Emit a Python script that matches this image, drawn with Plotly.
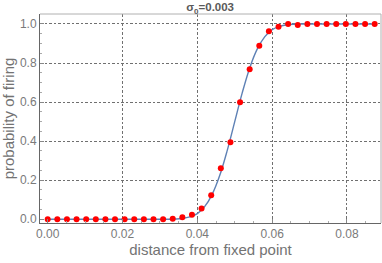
import plotly.graph_objects as go

# sampled points (red dots)
point_x = [i * 0.002571 for i in range(35)]
point_y = [0.0, 0.0, 0.0, 0.0, 0.0, 0.0, 0.0, 0.0, 0.0, 0.0,
           0.0, 0.0, 0.0, 0.003, 0.010, 0.023, 0.055, 0.123, 0.261, 0.394,
           0.599, 0.768, 0.889, 0.963, 0.986, 1.0, 0.995, 1.0, 1.0, 1.0,
           1.0, 1.0, 1.0, 1.0, 1.0]

# smooth curve (blue)
curve_x = [0.0, 0.010, 0.020, 0.026, 0.030, 0.032, 0.034, 0.036, 0.038, 0.040,
           0.042, 0.044, 0.046, 0.048, 0.050, 0.052, 0.054, 0.056, 0.058, 0.060,
           0.062, 0.064, 0.066, 0.068, 0.070, 0.075, 0.080, 0.0874]
curve_y = [0.0, 0.0, 0.0, 0.0, 0.0001, 0.0004, 0.0013, 0.004, 0.012, 0.029,
           0.066, 0.129, 0.225, 0.353, 0.5, 0.647, 0.775, 0.871, 0.934, 0.971,
           0.988, 0.996, 0.9987, 0.9996, 1.0, 1.0, 1.0, 1.0]

x_ticks = [0.00, 0.02, 0.04, 0.06, 0.08]
x_labels = ["0.00", "0.02", "0.04", "0.06", "0.08"]
y_ticks = [0.0, 0.2, 0.4, 0.6, 0.8, 1.0]
y_labels = ["0.0", "0.2", "0.4", "0.6", "0.8", "1.0"]

fig = go.Figure()
fig.add_trace(go.Scatter(x=curve_x, y=curve_y, mode="lines",
                         line=dict(color="#5E81B5", width=1.4, shape="spline"),
                         hoverinfo="skip"))
fig.add_trace(go.Scatter(x=point_x, y=point_y, mode="markers",
                         marker=dict(color="#FF0000", size=6)))

FONT = "Liberation Sans, Arial, sans-serif"
tickfont = dict(family=FONT, size=12, color="#7a7a7a")
titlefont = dict(family=FONT, size=15, color="#737373")
grid = dict(showgrid=True, gridcolor="#707070", gridwidth=0.8, griddash="2.5px,2px",
            zeroline=True, zerolinecolor="rgba(0,0,0,0)", automargin=False)

fig.update_layout(
    width=382, height=263,
    margin=dict(l=40, r=1, t=14, b=40),
    paper_bgcolor="white", plot_bgcolor="white",
    showlegend=False,
    title=dict(text="<b>σ<sub>0</sub>=0.003</b>", x=0.55, xanchor="center",
               y=0.972, yanchor="middle",
               font=dict(family=FONT, size=11.5, color="#5a5a5a")),
    xaxis=dict(range=[-0.00206, 0.0891], tickvals=x_ticks, ticktext=x_labels,
               ticks="inside", ticklen=4, tickcolor="#888888",
               minor=dict(ticks="inside", ticklen=2, dtick=0.005, tickcolor="#aaaaaa", showgrid=False),
               showline=True, linecolor="#666666", linewidth=1, mirror=False,
               tickfont=tickfont,
               title=dict(text="distance from fixed point", font=titlefont, standoff=4),
               **grid),
    yaxis=dict(range=[-0.019, 1.051], tickvals=y_ticks, ticktext=y_labels,
               ticks="inside", ticklen=4, tickcolor="#888888",
               minor=dict(ticks="inside", ticklen=2, dtick=0.05, tickcolor="#aaaaaa", showgrid=False),
               showline=True, linecolor="#666666", linewidth=1, mirror=False,
               tickfont=tickfont,
               title=dict(text="probability of firing", font=titlefont, standoff=2),
               **grid),
    shapes=[
        dict(type="line", xref="paper", yref="paper", x0=0, x1=1, y0=1, y1=1,
             line=dict(color="#b0b0b0", width=1)),
        dict(type="line", xref="paper", yref="paper", x0=1, x1=1, y0=0, y1=1,
             line=dict(color="#b0b0b0", width=1)),
    ],
)

fig.write_html("out.html", config={"displayModeBar": False},
               post_script="document.body.style.margin='0';document.body.style.padding='0';")
